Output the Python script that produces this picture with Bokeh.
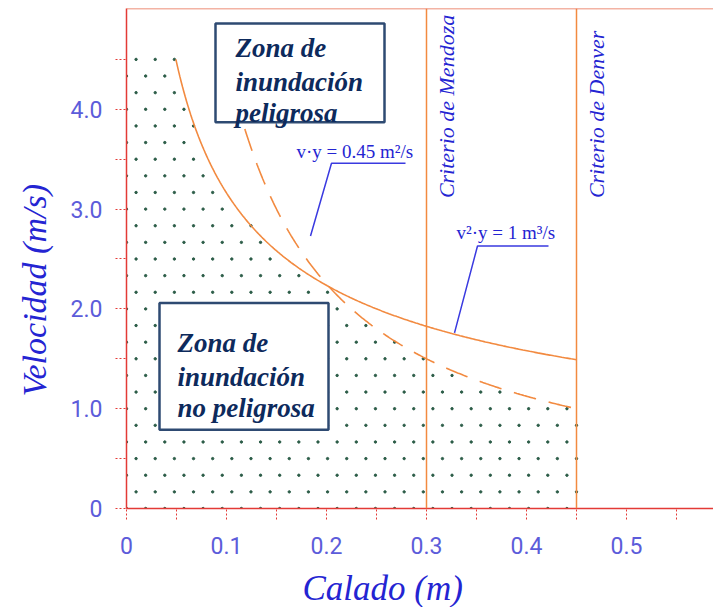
import numpy as np
from bokeh.plotting import figure
from bokeh.models import FixedTicker, Span, BoxAnnotation, Label, Range1d, Title
from bokeh.embed import file_html
from bokeh.resources import INLINE

# Hazard criteria for flooded streets (depth y in m, velocity v in m/s)
vy_limit = 0.45        # v·y  [m²/s]
v2y_limit = 1.0        # v²·y [m³/s]
mendoza_depth = 0.30   # m
denver_depth = 0.45    # m
v_max = 4.5            # m/s, upper velocity shown in the diagram

x_ticks = [0, 0.1, 0.2, 0.3, 0.4, 0.5]
x_tick_labels = ["0", "0.1", "0.2", "0.3", "0.4", "0.5"]
x_minor_ticks = [0.05, 0.15, 0.25, 0.35, 0.45, 0.55]
y_ticks = [0, 1, 2, 3, 4]
y_tick_labels = ["0", "1.0", "2.0", "3.0", "4.0"]
y_minor_ticks = [0.5, 1.5, 2.5, 3.5, 4.5]

SERIF = "Liberation Serif"
TICK_FONT = "Roboto"
RED = "#e33a36"
ORANGE = "#f28a40"
BLUE = "#2424d2"
NAVY = "#0d2a5c"

p = figure(width=713, height=607, output_backend="svg", toolbar_location=None,
           x_range=Range1d(0, 0.587), y_range=Range1d(0, 5.01))
p.min_border_left = 126
p.min_border_right = 0
p.min_border_top = 8
p.min_border_bottom = 98
p.outline_line_color = None
p.grid.visible = False
p.background_fill_color = "white"
p.border_fill_color = "white"

# Axes: red lines with dotted ticks
for ax, ticks, minor, labels in ((p.xaxis[0], x_ticks, x_minor_ticks, x_tick_labels),
                                 (p.yaxis[0], y_ticks, y_minor_ticks, y_tick_labels)):
    ax.ticker = FixedTicker(ticks=ticks, minor_ticks=minor)
    ax.major_label_overrides = {t: s for t, s in zip(ticks, labels)}
    ax.axis_line_color = RED
    ax.axis_line_width = 1.5
    ax.major_tick_line_color = RED
    ax.minor_tick_line_color = RED
    ax.major_tick_line_dash = "2 2"
    ax.minor_tick_line_dash = "2 2"
    ax.major_tick_in = 0
    ax.minor_tick_in = 0
    ax.major_tick_out = 11
    ax.minor_tick_out = 11
    ax.major_label_text_font = TICK_FONT
    ax.major_label_text_font_size = "23px"
    ax.major_label_text_color = "#5c5cda"
    # blank axis label used only as a gap before the title panel
    ax.axis_label = " "
    ax.axis_label_text_font_size = "1px"
p.xaxis.major_label_standoff = 17
p.yaxis.major_label_standoff = 13
p.yaxis.major_label_orientation = "horizontal"
p.xaxis.axis_label_standoff = 6
p.yaxis.axis_label_standoff = 11

# Axis titles, placed in the side panels
p.add_layout(Title(text="Calado (m)", align="left", offset=176, vertical_align="bottom",
                   standoff=0, text_font=SERIF, text_font_size="35px",
                   text_font_style="italic", text_color=BLUE), "below")
p.add_layout(Title(text="Velocidad (m/s)", align="left", offset=112, vertical_align="bottom",
                   standoff=0, text_font=SERIF, text_font_size="34px",
                   text_font_style="italic", text_color=BLUE), "left")

# Safe zone: staggered dot texture below both criteria curves
step = denver_depth / 23.5
dot_x, dot_y = [], []
for i in range(28):
    v = i / 6.0
    offset = 0.0 if i % 2 == 0 else step / 2
    for x in np.arange(offset, denver_depth + 1e-6, step):
        if x > 0:
            lim = min(np.sqrt(v2y_limit / x), vy_limit / x, v_max)
        else:
            lim = v_max
        if v <= lim + 1e-9:
            dot_x.append(x)
            dot_y.append(v)
p.scatter(dot_x, dot_y, size=2.4, color="#2b5c47", marker="circle")

# Criteria curves
y_solid = np.linspace(v2y_limit / v_max ** 2, denver_depth, 300)
p.line(y_solid, np.sqrt(v2y_limit / y_solid), line_color=ORANGE, line_width=1.6)
y_dash = np.linspace(vy_limit / v_max, denver_depth, 300)
p.line(y_dash, vy_limit / y_dash, line_color=ORANGE, line_width=1.6, line_dash="23 13")

# Depth criteria and top frame line
for d in (mendoza_depth, denver_depth):
    p.add_layout(Span(location=d, dimension="height", line_color=ORANGE, line_width=1.5))
p.add_layout(Span(location=p.y_range.end, dimension="width", line_color="#e8694a", line_width=1.5))

# Zone boxes
for l, r, t, b in ((0.089, 0.258, 4.86, 3.87), (0.033, 0.202, 2.06, 0.79)):
    p.add_layout(BoxAnnotation(left=l, right=r, top=t, bottom=b, fill_color="white",
                               fill_alpha=1.0, line_color="#2e4a72", line_alpha=1.0,
                               line_width=2.5, level="annotation"))

def label(x, y, text, size, style="italic", color=BLUE, angle=0.0, align="left",
          baseline="alphabetic"):
    p.add_layout(Label(x=x, y=y, text=text, text_font=SERIF, text_font_size=size,
                       text_font_style=style, text_color=color, angle=angle,
                       text_align=align, text_baseline=baseline))

for txt, yy in (("Zona de", 4.61), ("inundación", 4.27), ("peligrosa", 3.96)):
    label(0.109, yy, txt, "27px", "bold italic", NAVY)
for txt, yy in (("Zona de", 1.66), ("inundación", 1.32), ("no peligrosa", 1.01)):
    label(0.051, yy, txt, "27px", "bold italic", NAVY)

# Curve call-outs
label(0.170, 3.58, "v·y = 0.45 m²/s", "19px", "normal")
p.line([0.184, 0.205, 0.279], [2.73, 3.46, 3.46], line_color="#3a3ae0", line_width=1.5)
label(0.330, 2.77, "v²·y = 1 m³/s", "19px", "normal")
p.line([0.328, 0.351, 0.422], [1.76, 2.63, 2.63], line_color="#3a3ae0", line_width=1.5)

# Vertical criterion names
label(0.320, 3.11, "Criterio de Mendoza", "22px", angle=np.pi / 2)
label(0.470, 3.11, "Criterio de Denver", "22px", angle=np.pi / 2)

open("out.html", "w").write(file_html(p, INLINE))
